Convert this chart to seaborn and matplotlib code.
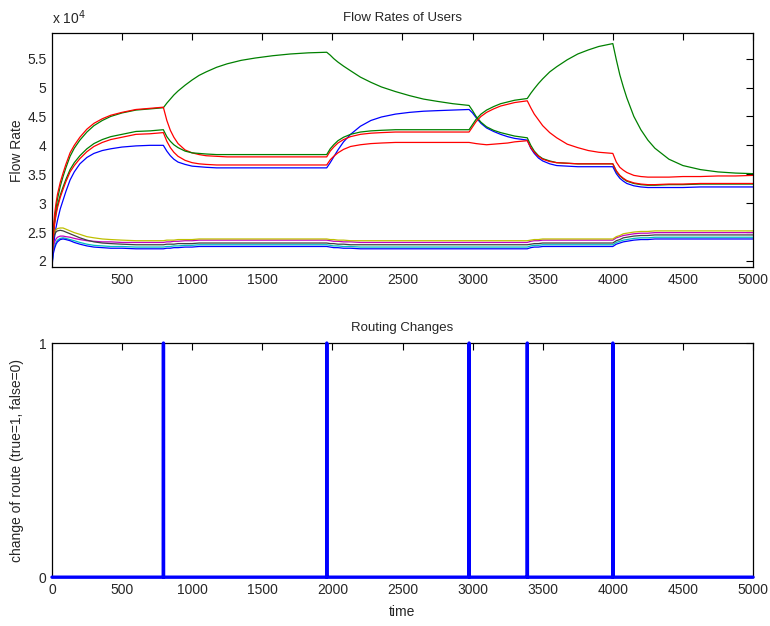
import numpy as np
import pandas as pd
import matplotlib
matplotlib.use("Agg")
import matplotlib.pyplot as plt
import seaborn as sns
from matplotlib.ticker import FuncFormatter

# sample times (same for every user)
time = [1, 10, 20, 30, 40, 60, 80, 100, 130, 160, 200, 250, 300, 360, 420, 500, 600, 700, 795,
        820, 845, 870, 900, 950, 1000, 1050, 1100, 1175, 1250, 1350, 1450, 1575, 1700, 1830, 1960,
        1985, 2010, 2040, 2080, 2130, 2200, 2275, 2350, 2450, 2550, 2650, 2750, 2860, 2975,
        3000, 3025, 3060, 3100, 3150, 3200, 3250, 3300, 3390,
        3415, 3440, 3470, 3500, 3550, 3600, 3675, 3750, 3825, 3900, 4000,
        4025, 4050, 4075, 4100, 4150, 4200, 4250, 4300, 4400, 4500, 4625, 4750, 4875, 5000]

# flow rates, in units of 1e4
blue_a = [1.92, 2.20, 2.42, 2.58, 2.70, 2.90, 3.05, 3.20, 3.40, 3.54, 3.68, 3.79, 3.86, 3.91, 3.94, 3.97, 3.99, 4.00, 4.00,
          3.90, 3.82, 3.76, 3.71, 3.67, 3.64, 3.63, 3.62, 3.61, 3.61, 3.61, 3.61, 3.61, 3.61, 3.61, 3.61,
          3.70, 3.80, 3.92, 4.06, 4.19, 4.33, 4.43, 4.49, 4.54, 4.57, 4.59, 4.60, 4.61, 4.62,
          4.56, 4.48, 4.38, 4.30, 4.24, 4.19, 4.15, 4.12, 4.09,
          3.95, 3.86, 3.78, 3.73, 3.68, 3.65, 3.64, 3.63, 3.63, 3.63, 3.63,
          3.51, 3.43, 3.38, 3.34, 3.30, 3.28, 3.27, 3.27, 3.27, 3.27, 3.28, 3.28, 3.28, 3.28]
green_a = [2.00, 2.45, 2.72, 2.92, 3.07, 3.29, 3.46, 3.61, 3.81, 3.95, 4.09, 4.23, 4.34, 4.43, 4.50, 4.56, 4.61, 4.63, 4.65,
           4.73, 4.80, 4.87, 4.94, 5.04, 5.13, 5.21, 5.27, 5.35, 5.41, 5.47, 5.51, 5.55, 5.58, 5.60, 5.61,
           5.56, 5.50, 5.44, 5.37, 5.29, 5.18, 5.09, 5.01, 4.93, 4.86, 4.80, 4.76, 4.72, 4.69,
           4.60, 4.50, 4.40, 4.32, 4.26, 4.22, 4.19, 4.16, 4.13,
           4.00, 3.90, 3.82, 3.77, 3.73, 3.70, 3.69, 3.68, 3.68, 3.68, 3.68,
           3.55, 3.47, 3.42, 3.38, 3.34, 3.32, 3.31, 3.31, 3.32, 3.32, 3.33, 3.33, 3.33, 3.33]
red_a = [2.05, 2.55, 2.82, 3.00, 3.15, 3.36, 3.52, 3.67, 3.87, 4.00, 4.14, 4.28, 4.38, 4.46, 4.52, 4.57, 4.62, 4.64, 4.66,
         4.43, 4.26, 4.14, 4.03, 3.92, 3.87, 3.84, 3.82, 3.81, 3.80, 3.80, 3.80, 3.80, 3.80, 3.80, 3.80,
         3.90, 3.97, 4.04, 4.10, 4.15, 4.19, 4.21, 4.22, 4.23, 4.23, 4.23, 4.23, 4.23, 4.23,
         4.32, 4.41, 4.50, 4.57, 4.63, 4.68, 4.71, 4.74, 4.77,
         4.65, 4.54, 4.44, 4.34, 4.22, 4.13, 4.02, 3.96, 3.91, 3.88, 3.86,
         3.71, 3.62, 3.57, 3.53, 3.48, 3.46, 3.45, 3.45, 3.45, 3.46, 3.46, 3.47, 3.47, 3.48]
cyan = [1.95, 2.16, 2.26, 2.32, 2.36, 2.39, 2.40, 2.39, 2.37, 2.35, 2.32, 2.29, 2.27, 2.26, 2.25, 2.25, 2.24, 2.24, 2.24,
        2.25, 2.25, 2.26, 2.26, 2.27, 2.27, 2.28, 2.28, 2.28, 2.28, 2.28, 2.28, 2.28, 2.28, 2.28, 2.28,
        2.27, 2.26, 2.26, 2.25, 2.25, 2.24, 2.24, 2.24, 2.24, 2.24, 2.24, 2.24, 2.24, 2.24,
        2.24, 2.24, 2.24, 2.24, 2.24, 2.24, 2.24, 2.24, 2.24,
        2.26, 2.27, 2.27, 2.28, 2.28, 2.28, 2.28, 2.28, 2.28, 2.28, 2.28,
        2.32, 2.34, 2.36, 2.37, 2.39, 2.40, 2.40, 2.41, 2.41, 2.41, 2.41, 2.41, 2.41, 2.41]
magenta = [2.05, 2.25, 2.33, 2.38, 2.41, 2.43, 2.43, 2.42, 2.41, 2.39, 2.37, 2.35, 2.34, 2.33, 2.33, 2.32, 2.32, 2.32, 2.32,
           2.33, 2.33, 2.34, 2.34, 2.35, 2.35, 2.36, 2.36, 2.36, 2.36, 2.36, 2.36, 2.36, 2.36, 2.36, 2.36,
           2.35, 2.34, 2.34, 2.33, 2.33, 2.32, 2.32, 2.32, 2.32, 2.32, 2.32, 2.32, 2.32, 2.32,
           2.32, 2.32, 2.32, 2.32, 2.32, 2.32, 2.32, 2.32, 2.32,
           2.34, 2.35, 2.35, 2.36, 2.36, 2.36, 2.36, 2.36, 2.36, 2.36, 2.36,
           2.40, 2.42, 2.44, 2.45, 2.47, 2.48, 2.48, 2.49, 2.49, 2.49, 2.49, 2.49, 2.49, 2.49]
yellow = [2.20, 2.42, 2.50, 2.54, 2.56, 2.57, 2.57, 2.55, 2.52, 2.49, 2.46, 2.42, 2.40, 2.38, 2.37, 2.36, 2.35, 2.35, 2.35,
          2.36, 2.36, 2.36, 2.37, 2.37, 2.37, 2.38, 2.38, 2.38, 2.38, 2.38, 2.38, 2.38, 2.38, 2.38, 2.38,
          2.37, 2.37, 2.36, 2.36, 2.35, 2.35, 2.35, 2.35, 2.35, 2.35, 2.35, 2.35, 2.35, 2.35,
          2.35, 2.35, 2.35, 2.35, 2.35, 2.35, 2.35, 2.35, 2.35,
          2.36, 2.37, 2.37, 2.38, 2.38, 2.38, 2.38, 2.38, 2.38, 2.38, 2.38,
          2.42, 2.44, 2.47, 2.48, 2.50, 2.51, 2.51, 2.52, 2.52, 2.52, 2.52, 2.52, 2.52, 2.52]
black = [2.15, 2.38, 2.46, 2.50, 2.52, 2.53, 2.52, 2.50, 2.47, 2.44, 2.40, 2.36, 2.33, 2.31, 2.30, 2.29, 2.28, 2.28, 2.28,
         2.29, 2.29, 2.29, 2.30, 2.30, 2.30, 2.31, 2.31, 2.31, 2.31, 2.31, 2.31, 2.31, 2.31, 2.31, 2.31,
         2.30, 2.30, 2.29, 2.29, 2.28, 2.28, 2.28, 2.28, 2.28, 2.28, 2.28, 2.28, 2.28, 2.28,
         2.28, 2.28, 2.28, 2.28, 2.28, 2.28, 2.28, 2.28, 2.28,
         2.29, 2.30, 2.30, 2.31, 2.31, 2.31, 2.31, 2.31, 2.31, 2.31, 2.31,
         2.35, 2.37, 2.40, 2.41, 2.43, 2.44, 2.44, 2.45, 2.45, 2.45, 2.45, 2.45, 2.45, 2.45]
blue_b = [1.90, 2.12, 2.22, 2.29, 2.33, 2.37, 2.38, 2.37, 2.35, 2.32, 2.29, 2.26, 2.24, 2.23, 2.22, 2.22, 2.21, 2.21, 2.21,
          2.22, 2.22, 2.23, 2.23, 2.24, 2.24, 2.25, 2.25, 2.25, 2.25, 2.25, 2.25, 2.25, 2.25, 2.25, 2.25,
          2.24, 2.23, 2.23, 2.22, 2.22, 2.21, 2.21, 2.21, 2.21, 2.21, 2.21, 2.21, 2.21, 2.21,
          2.21, 2.21, 2.21, 2.21, 2.21, 2.21, 2.21, 2.21, 2.21,
          2.23, 2.24, 2.24, 2.25, 2.25, 2.25, 2.25, 2.25, 2.25, 2.25, 2.25,
          2.29, 2.31, 2.33, 2.34, 2.36, 2.37, 2.37, 2.38, 2.38, 2.38, 2.38, 2.38, 2.38, 2.38]
green_b = [2.00, 2.43, 2.67, 2.83, 2.96, 3.14, 3.28, 3.41, 3.58, 3.70, 3.82, 3.94, 4.03, 4.10, 4.15, 4.19, 4.24, 4.25, 4.27,
           4.15, 4.07, 4.01, 3.96, 3.90, 3.87, 3.86, 3.85, 3.84, 3.84, 3.84, 3.84, 3.84, 3.84, 3.84, 3.84,
           3.94, 4.01, 4.08, 4.14, 4.19, 4.23, 4.25, 4.26, 4.27, 4.27, 4.27, 4.27, 4.27, 4.27,
           4.36, 4.45, 4.54, 4.61, 4.67, 4.72, 4.75, 4.78, 4.81,
           4.90, 4.98, 5.07, 5.15, 5.27, 5.36, 5.48, 5.58, 5.65, 5.71, 5.76,
           5.48, 5.22, 5.01, 4.82, 4.50, 4.27, 4.09, 3.95, 3.76, 3.65, 3.58, 3.54, 3.52, 3.51]
red_b = [1.98, 2.41, 2.64, 2.80, 2.92, 3.10, 3.24, 3.37, 3.54, 3.65, 3.77, 3.89, 3.98, 4.05, 4.10, 4.14, 4.19, 4.20, 4.22,
         4.07, 3.96, 3.88, 3.81, 3.74, 3.70, 3.68, 3.67, 3.66, 3.66, 3.66, 3.66, 3.66, 3.66, 3.66, 3.66,
         3.75, 3.81, 3.87, 3.93, 3.98, 4.01, 4.03, 4.04, 4.05, 4.05, 4.05, 4.05, 4.05, 4.05,
         4.04, 4.03, 4.02, 4.01, 4.02, 4.03, 4.04, 4.06, 4.08,
         3.96, 3.88, 3.81, 3.76, 3.72, 3.70, 3.69, 3.68, 3.68, 3.68, 3.68,
         3.56, 3.48, 3.43, 3.39, 3.35, 3.33, 3.32, 3.32, 3.33, 3.33, 3.34, 3.34, 3.34, 3.34]

# times at which a route changed
route_changes = [795, 1960, 2975, 3390, 4000]

series = {"u1": blue_a, "u2": green_a, "u3": red_a, "u4": cyan, "u5": magenta,
          "u6": yellow, "u7": black, "u8": blue_b, "u9": green_b, "u10": red_b}
colors = {"u1": (0, 0, 1), "u2": (0, 0.5, 0), "u3": (1, 0, 0),
          "u4": (0, 0.75, 0.75), "u5": (0.75, 0, 0.75), "u6": (0.75, 0.75, 0),
          "u7": (0.25, 0.25, 0.25), "u8": (0, 0, 1), "u9": (0, 0.5, 0),
          "u10": (1, 0, 0)}

flow_df = pd.concat([pd.DataFrame({"time": time, "flow": v, "user": k})
                     for k, v in series.items()], ignore_index=True)

steps = np.arange(0, 5001)
route_df = pd.DataFrame({"time": steps,
                         "change": np.isin(steps, route_changes).astype(int)})

sns.set_theme(style="white")
plt.rcParams["font.family"] = ["Liberation Sans", "DejaVu Sans"]
plt.rcParams["xtick.direction"] = "in"
plt.rcParams["ytick.direction"] = "in"
plt.rcParams["axes.edgecolor"] = "black"
plt.rcParams["axes.linewidth"] = 0.9

fig = plt.figure(figsize=(7.7, 6.26), dpi=100)
ax1 = fig.add_axes([0.0675, 0.573, 0.9105, 0.374])
ax2 = fig.add_axes([0.0675, 0.078, 0.9105, 0.374])

sns.lineplot(data=flow_df, x="time", y="flow", hue="user", palette=colors,
             estimator=None, sort=False, legend=False, linewidth=0.9, ax=ax1)
ax1.set_xlim(1, 5000)
ax1.set_ylim(1.89, 5.94)
ax1.set_xticks(np.arange(500, 5001, 500))
ax1.set_yticks(np.arange(2, 5.51, 0.5))
ax1.yaxis.set_major_formatter(FuncFormatter(lambda v, p: "%g" % v))
ax1.set_xlabel("")
ax1.set_ylabel("Flow Rate", fontsize=10)
ax1.yaxis.set_label_coords(-0.04, 0.5)
ax1.set_title("Flow Rates of Users", fontsize=9.5, pad=9)
ax1.text(0.0, 1.025, r"x 10$^4$", transform=ax1.transAxes, fontsize=10,
         ha="left", va="bottom")

sns.lineplot(data=route_df, x="time", y="change", color=(0, 0, 1),
             estimator=None, linewidth=2.4, ax=ax2)
for ln in ax2.lines:
    ln.set_clip_on(False)
    ln.set_zorder(3)
ax2.set_xlim(0, 5000)
ax2.set_ylim(0, 1)
ax2.set_xticks(np.arange(0, 5001, 500))
ax2.set_yticks([0, 1])
ax2.set_xlabel("time", fontsize=10, labelpad=6)
ax2.set_ylabel("change of route (true=1, false=0)", fontsize=10)
ax2.yaxis.set_label_coords(-0.04, 0.5)
ax2.set_title("Routing Changes", fontsize=9.5, pad=9)

for ax in (ax1, ax2):
    ax.tick_params(axis="both", which="both", top=True, right=True,
                   length=5, width=0.8, labelsize=10, color="black", pad=4)
    for s in ax.spines.values():
        s.set_color("black")

fig.savefig("out.png", dpi=100)
